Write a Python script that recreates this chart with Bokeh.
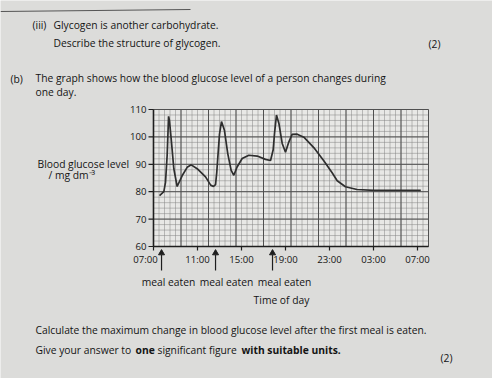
import numpy as np
from bokeh.plotting import figure
from bokeh.models import Range1d
from bokeh.core.properties import value
from bokeh.embed import file_html
from bokeh.resources import INLINE

# ---- data (hours after 07:00, blood glucose / mg dm^-3) ----
hours = [0.55, 0.94, 1.09, 1.24, 1.37, 1.45, 1.61, 1.85, 2.15, 2.6, 3.06, 3.43,
         3.97, 4.73, 5.2, 5.45, 5.64, 5.75, 5.85, 6.0, 6.18, 6.45, 6.75, 7.06,
         7.3, 7.6, 8.06, 8.67, 9.43, 10.18, 10.64, 10.88, 11.0, 11.18, 11.4,
         11.7, 12.0, 12.3, 12.6, 13.06, 13.67, 14.57, 15.48, 16.24, 16.7, 17.45,
         18.5, 20.0, 22.2, 24.3]
glucose = [78.6, 80.0, 83.4, 93.1, 107.5, 106.0, 99.2, 88.3, 81.9, 85.8, 88.9,
           89.8, 88.4, 85.4, 82.4, 81.9, 82.6, 87.0, 92.7, 101.0, 105.6, 102.4,
           93.9, 87.8, 86.0, 89.0, 92.1, 93.3, 93.0, 91.8, 91.4, 95.3, 101.2,
           108.0, 104.9, 97.6, 94.4, 98.1, 100.9, 101.0, 99.9, 96.1, 91.3, 86.9,
           84.0, 81.8, 80.8, 80.5, 80.5, 80.5]
meal_times = [0.73, 5.64, 10.82]
tick_hours = [0, 4, 8, 12, 16, 20, 24]
tick_labels = ["07:00", "11:00", "15:00", "19:00", "23:00", "03:00", "07:00"]
y_ticks = [60, 70, 80, 90, 100, 110]
x_span = (0, 25)
y_span = (60, 110)

# ---- page layout (canvas pixels, y downwards) ----
W, H = 492, 378
C_LEFT, C_RIGHT, C_TOP, C_BOTTOM = 153, 428, 109, 246
FONT = value("Open Sans")
INK = "#141414"
BODY = "10.3px"
TICK = "9.6px"

pxh = (C_RIGHT - C_LEFT) / (x_span[1] - x_span[0])
pxg = (C_BOTTOM - C_TOP) / (y_span[1] - y_span[0])

p = figure(width=W, height=H, output_backend="svg", toolbar_location=None,
           x_range=Range1d(0, W), y_range=Range1d(H, 0),
           x_axis_location=None, y_axis_location=None,
           min_border=0, min_border_left=0, min_border_right=0,
           min_border_top=0, min_border_bottom=0)
p.grid.visible = False
p.outline_line_color = None
p.background_fill_color = "#dcdcda"
p.border_fill_color = "#dcdcda"

# chart scales mapped onto the chart area
p.extra_x_ranges = {"h": Range1d(x_span[0] - C_LEFT / pxh,
                                 x_span[1] + (W - C_RIGHT) / pxh)}
p.extra_y_ranges = {"g": Range1d(y_span[0] - (H - C_BOTTOM) / pxg,
                                 y_span[1] + C_TOP / pxg)}
R = dict(x_range_name="h", y_range_name="g")

# graph paper
p.quad(left=[x_span[0]], right=[x_span[1]], bottom=[y_span[0]], top=[y_span[1]],
       fill_color="#e8e8e6", line_color=None, **R)
vx_minor = np.arange(x_span[0], x_span[1] + 1e-9, 0.5)
vx_major = np.arange(x_span[0], x_span[1] + 1e-9, 2.5)
hy_minor = np.arange(y_span[0], y_span[1] + 1e-9, 2)
hy_major = np.arange(y_span[0], y_span[1] + 1e-9, 10)
p.segment(x0=vx_minor, y0=y_span[0], x1=vx_minor, y1=y_span[1],
          line_color="#858585", line_width=0.6, line_alpha=0.85, **R)
p.segment(x0=x_span[0], y0=hy_minor, x1=x_span[1], y1=hy_minor,
          line_color="#858585", line_width=0.6, line_alpha=0.85, **R)
p.segment(x0=vx_major, y0=y_span[0], x1=vx_major, y1=y_span[1],
          line_color="#505050", line_width=1.0, **R)
p.segment(x0=x_span[0], y0=hy_major, x1=x_span[1], y1=hy_major,
          line_color="#505050", line_width=1.0, **R)

# curve
p.line(hours, glucose, line_color="#2e2e2e", line_width=1.7, **R)

# axes
p.segment(x0=[x_span[0]], y0=[y_span[0]], x1=[x_span[0]], y1=[y_span[1]],
          line_color="#1e1e1e", line_width=1.6, **R)
p.segment(x0=[x_span[0]], y0=[y_span[0]], x1=[x_span[1]], y1=[y_span[0]],
          line_color="#1e1e1e", line_width=1.6, **R)
p.ray(x=[x_span[0]] * len(y_ticks), y=y_ticks, length=5, angle=np.pi,
      length_units="screen", line_color="#1e1e1e", line_width=1.2, **R)
p.ray(x=tick_hours, y=[y_span[0]] * len(tick_hours), length=4, angle=-np.pi / 2,
      length_units="screen", line_color="#1e1e1e", line_width=1.2, **R)
p.text(x=[x_span[0]] * len(y_ticks), y=y_ticks, text=[str(v) for v in y_ticks],
       x_offset=-7, text_align="right", text_baseline="middle",
       text_font=FONT, text_font_size=TICK, text_color=INK, **R)
# first time label sits left of its tick (the meal arrow is right beside it)
p.text(x=tick_hours[:1], y=[y_span[0]], text=tick_labels[:1],
       x_offset=-8, y_offset=13, text_align="center", text_baseline="middle",
       text_font=FONT, text_font_size=TICK, text_color=INK, **R)
p.text(x=tick_hours[1:], y=[y_span[0]] * (len(tick_hours) - 1),
       text=tick_labels[1:], y_offset=13, text_align="center",
       text_baseline="middle", text_font=FONT, text_font_size=TICK,
       text_color=INK, **R)

# meal arrows below the time axis
p.segment(x0=meal_times, y0=51.2, x1=meal_times, y1=57.0,
          line_color="#1e1e1e", line_width=1.2, **R)
p.scatter(x=meal_times, y=[57.6] * len(meal_times), marker="triangle", size=6,
          fill_color="#1e1e1e", line_color="#1e1e1e", **R)

# page texts
normal_left = [
    ("(iii)", 32, 24), ("Glycogen is another carbohydrate.", 53, 24),
    ("Describe the structure of glycogen.", 53, 42), ("(2)", 428, 43),
    ("(b)", 10, 78),
    ("The graph shows how the blood glucose level of a person changes during", 35, 77),
    ("one day.", 35, 91),
    ("Blood glucose level", 37, 163), ("/ mg dm⁻³", 48, 174),
    ("Calculate the maximum change in blood glucose level after the first meal is eaten.", 35, 329),
    ("Give your answer to", 35, 349), ("significant figure", 157, 349),
    ("(2)", 440, 357),
]
bold_left = [("one", 135, 349), ("with suitable units.", 241, 349)]
centred = [("meal eaten", 168, 281), ("meal eaten", 226, 281),
           ("meal eaten", 284, 281), ("Time of day", 281, 299)]


def put(items, align, style):
    p.text(x=[i[1] for i in items], y=[i[2] for i in items],
           text=[i[0] for i in items], text_align=align, text_baseline="middle",
           text_font=FONT, text_font_size=BODY, text_font_style=style,
           text_color=INK)


put(normal_left, "left", "normal")
put(bold_left, "left", "bold")
put(centred, "center", "normal")

# page edge line at the top
p.line(x=[0, 190], y=[11, 9], line_color="#555555", line_width=1.2)

open("out.html", "w").write(file_html(p, INLINE))
